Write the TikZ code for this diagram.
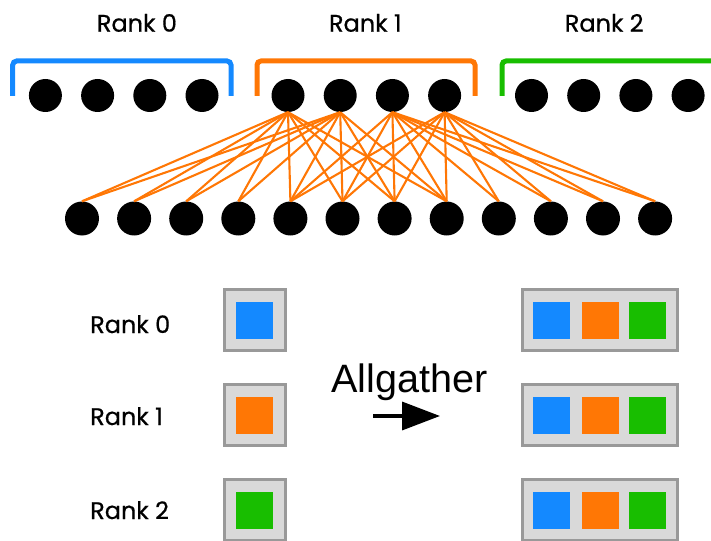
\documentclass[tikz,border=0pt]{standalone}
\usepackage{fontspec}
\setmainfont{Liberation Sans}
\newfontfamily\rankfont[FakeBold=0.6]{Poppins}
\usetikzlibrary{arrows.meta}
\definecolor{cblue}{RGB}{20,137,255}
\definecolor{corange}{RGB}{255,119,5}
\definecolor{cgreen}{RGB}{24,190,0}
\definecolor{cgrayb}{RGB}{153,153,153}
\definecolor{cgrayf}{RGB}{217,217,217}
\begin{document}
\begin{tikzpicture}[x=1pt,y=-1pt,
  dot/.style={circle,fill=black,inner sep=0pt,minimum size=33pt},
  bdot/.style={circle,fill=black,inner sep=0pt,minimum size=34pt},
  link/.style={draw=corange,line width=2.1pt},
  brace/.style={line width=5pt,rounded corners=4pt},
  lbl/.style={font=\rankfont\fontsize{24}{28}\selectfont,inner sep=0pt,anchor=base west},
  box/.style={draw=cgrayb,fill=cgrayf,line width=3pt,inner sep=0pt,minimum height=61pt},
  cell/.style={inner sep=0pt,minimum size=37pt}]
\useasboundingbox (0,0) rectangle (711,540);
% top labels
\node[lbl] (r0) at (96.7,31.7) {Rank 0};
\node[lbl] (r1) at (328.8,31.7) {Rank 1};
\node[lbl] (r2) at (564.6,31.7) {Rank 2};
% brackets
\draw[brace,cblue] (12.7,96) -- (12.7,61) -- (231,61) -- (231,96);
\draw[brace,corange] (257,96) -- (257,61) -- (475,61) -- (475,96);
\draw[brace,cgreen] (502,96) -- (502,61) -- (716,61);
% top dots
\foreach \x [count=\i from 0] in {45.4,97.6,149.8,202,288,340.2,392.4,444.6,531.5,583.7,635.9,688.1}
  \node[dot] (t\i) at (\x,95.5) {};
% bottom dots
\foreach \j in {0,...,11}
  \node[bdot] (b\j) at ({82+52.1*\j},218.5) {};
% links
\foreach \i in {4,5}
  \foreach \j in {0,...,7}
    \draw[link] (t\i.south) -- (b\j.north);
\foreach \i in {6,7}
  \foreach \j in {4,...,11}
    \draw[link] (t\i.south) -- (b\j.north);
% lower part
\node[lbl] (l0) at (90,333) {Rank 0};
\node[lbl] (l1) at (90,425) {Rank 1};
\node[lbl] (l2) at (90,519) {Rank 2};
\foreach \y/\c [count=\k from 0] in {320/cblue,415/corange,510/cgreen}{
  \node[box,minimum width=61pt] (in\k) at (255,\y) {};
  \node[cell,fill=\c] (inc\k) at (254.5,\y) {};
  \node[box,minimum width=155pt] (out\k) at (600,\y) {};
  \node[cell,fill=cblue] (oa\k) at (551.7,\y) {};
  \node[cell,fill=corange] (ob\k) at (600.3,\y) {};
  \node[cell,fill=cgreen] (oc\k) at (647.8,\y) {};
}
\node[font=\fontsize{39.6}{44}\selectfont,inner sep=0pt,anchor=base west] (ag) at (331,392) {Allgather};
\coordinate (ags) at (373,416);
\coordinate (age) at (440,416);
\draw[line width=3.5pt,-{Triangle[length=38pt,width=28pt]}] (ags) -- (age);
\end{tikzpicture}
\end{document}
